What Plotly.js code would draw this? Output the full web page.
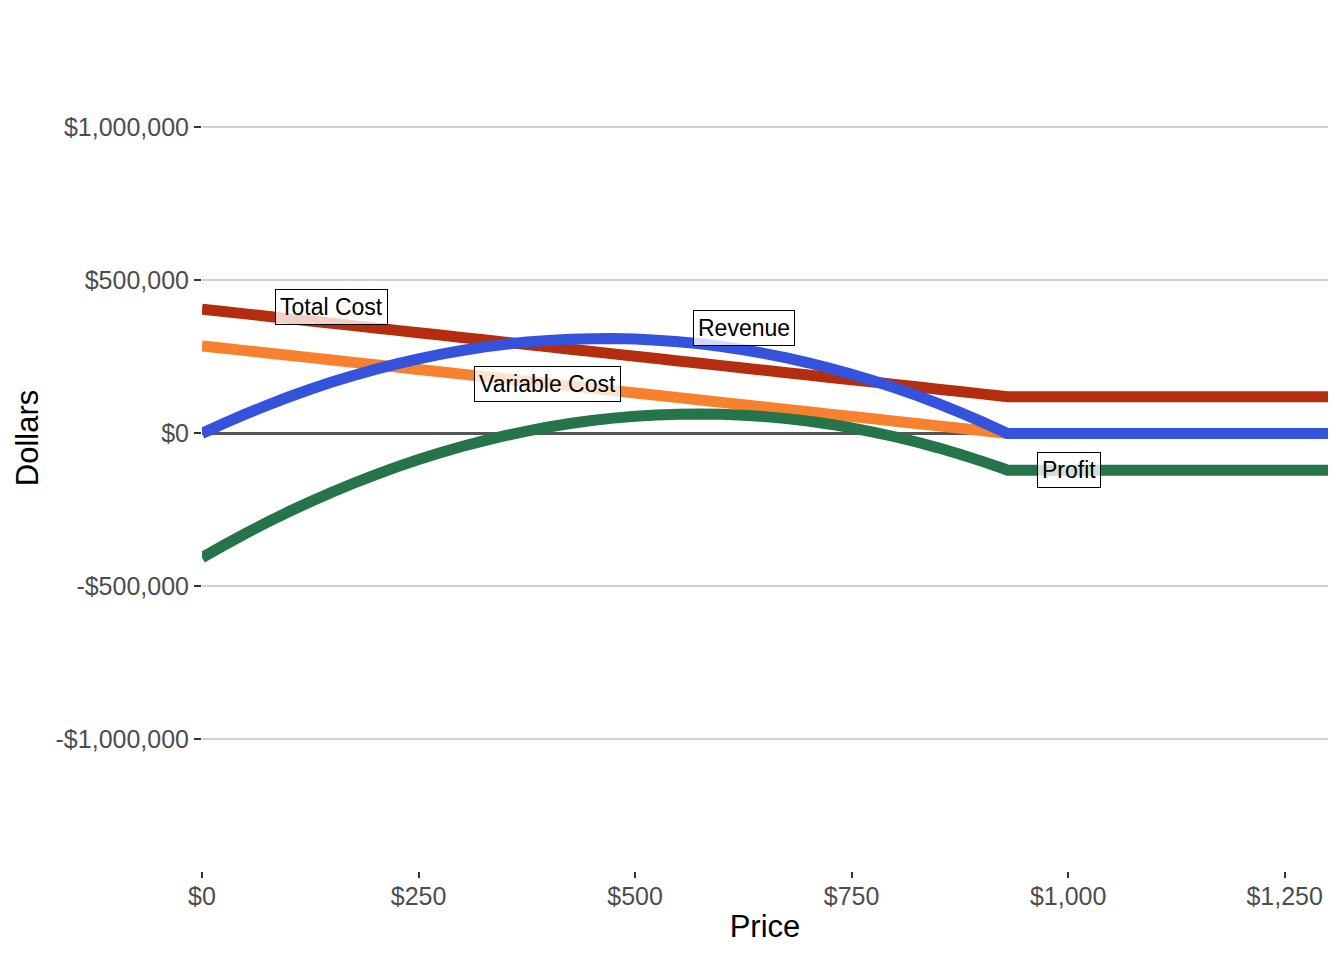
<!DOCTYPE html>
<html>
<head>
<meta charset="utf-8">
<script src="https://cdn.plot.ly/plotly-3.0.1.min.js"></script>
<style>
  html, body { margin: 0; padding: 0; background: #fff; }
  #chart { width: 1344px; height: 960px; }
</style>
</head>
<body>
<div id="chart"></div>
<script>
// values
const price = [0, 25, 50, 75, 100, 125, 150, 175, 200, 225, 250, 275, 300, 325, 350, 375, 400, 425, 450, 475,
               500, 525, 550, 575, 600, 625, 650, 675, 700, 725, 750, 775, 800, 825, 850, 875, 900, 925, 930,
               1000, 1100, 1200, 1300];

const totalCost = [406000, 398300, 390600, 382900, 375200, 367600, 359900, 352200, 344500, 336800,
                   329100, 321400, 313700, 306100, 298400, 290700, 283000, 275300, 267600, 259900,
                   252200, 244500, 236900, 229200, 221500, 213800, 206100, 198400, 190700, 183000,
                   175400, 167700, 160000, 152300, 144600, 136900, 129200, 121500, 120000,
                   120000, 120000, 120000, 120000];

const variableCost = [286000, 278300, 270600, 262900, 255200, 247600, 239900, 232200, 224500, 216800,
                      209100, 201400, 193700, 186100, 178400, 170700, 163000, 155300, 147600, 139900,
                      132200, 124500, 116900, 109200, 101500, 93800, 86100, 78400, 70700, 63000,
                      55400, 47700, 40000, 32300, 24600, 16900, 9200, 1500, 0,
                      0, 0, 0, 0];

const revenue = [0, 32400, 63100, 91900, 119000, 144300, 167700, 189400, 209300, 227400,
                 243700, 258200, 271000, 281900, 291000, 298400, 303900, 307700, 309700, 309900,
                 308200, 304800, 299600, 292700, 283900, 273300, 260900, 246800, 230800, 213100,
                 193500, 172200, 149100, 124200, 97500, 69000, 38700, 6600, 0,
                 0, 0, 0, 0];

const profit = [-406000, -365900, -327500, -291000, -256200, -223300, -192200, -162800, -135200, -109400,
                -85400, -63200, -42700, -24200, -7400, 7700, 20900, 32400, 42100, 50000,
                56000, 60300, 62700, 63500, 62400, 59500, 54800, 48400, 40100, 30100,
                18100, 4500, -10900, -28100, -47100, -67900, -90500, -114900, -120000,
                -120000, -120000, -120000, -120000];

const xTickVals = [0, 250, 500, 750, 1000, 1250];
const xTickText = ['$0', '$250', '$500', '$750', '$1,000', '$1,250'];
const yTickVals = [-1000000, -500000, 0, 500000, 1000000];
const yTickText = ['-$1,000,000', '-$500,000', '$0', '$500,000', '$1,000,000'];

// label positions (price, dollars)
const labelText = ['Total Cost', 'Variable Cost', 'Revenue', 'Profit'];
const labelX = [149, 399, 626, 1001];
const labelY = [412000, 163000, 343000, -121000];

const font = 'Liberation Sans, Arial, Helvetica, sans-serif';

const series = [
    {name: 'Total Cost', y: totalCost, color: '#B42D0E'},
    {name: 'Variable Cost', y: variableCost, color: '#F7812F'},
    {name: 'Revenue', y: revenue, color: '#3452DC'},
    {name: 'Profit', y: profit, color: '#26744A'}
];

const data = series.map(s => ({
    x: price,
    y: s.y,
    name: s.name,
    type: 'scatter',
    mode: 'lines',
    line: {color: s.color, width: 11, simplify: false},
    hoverinfo: 'skip'
}));

const annotations = labelText.map((t, i) => ({
    x: labelX[i],
    y: labelY[i],
    xref: 'x',
    yref: 'y',
    text: t,
    showarrow: false,
    font: {family: font, size: 23, color: '#000'},
    bgcolor: 'rgba(255,255,255,0.78)',
    bordercolor: '#000',
    borderwidth: 1,
    borderpad: 4
}));

const layout = {
    width: 1344,
    height: 960,
    paper_bgcolor: '#fff',
    plot_bgcolor: '#fff',
    showlegend: false,
    margin: {l: 202, r: 16, t: 5, b: 89, pad: 0},
    xaxis: {
        range: [0, 1300],
        tickvals: xTickVals,
        ticktext: xTickText,
        ticks: 'outside',
        ticklen: 6,
        tickwidth: 2,
        tickcolor: '#333',
        ticklabelstandoff: -3,
        tickfont: {family: font, size: 25, color: '#4d4d4d'},
        showgrid: false,
        zeroline: false,
        showline: false,
        title: {text: 'Price', font: {family: font, size: 31, color: '#000'}, standoff: 6}
    },
    yaxis: {
        range: [-1430000, 1400000],
        tickvals: yTickVals,
        ticktext: yTickText,
        ticks: 'outside',
        ticklen: 7,
        tickwidth: 2,
        tickcolor: '#333',
        tickfont: {family: font, size: 25, color: '#4d4d4d'},
        showgrid: true,
        gridcolor: '#d0d0d0',
        gridwidth: 2,
        zeroline: true,
        zerolinecolor: '#555',
        zerolinewidth: 2.5,
        showline: false,
        title: {text: 'Dollars', font: {family: font, size: 31, color: '#000'}, standoff: 7}
    },
    annotations: annotations
};

Plotly.newPlot('chart', data, layout, {displayModeBar: false, staticPlot: true});
</script>
</body>
</html>
